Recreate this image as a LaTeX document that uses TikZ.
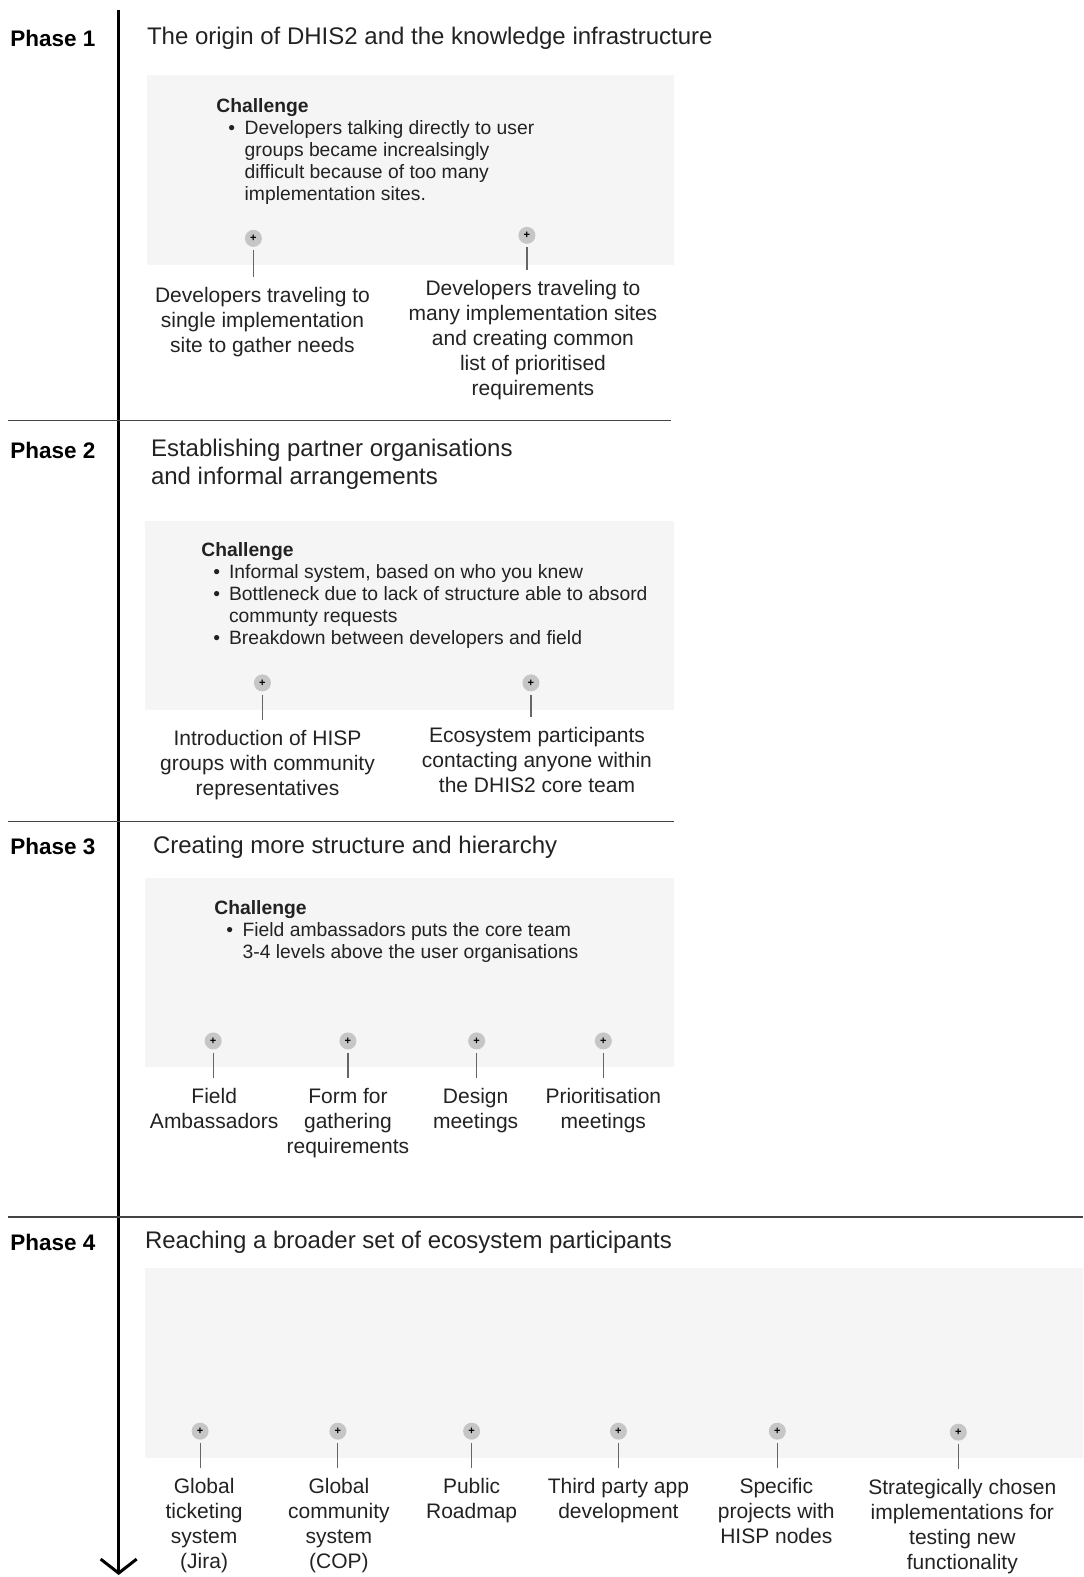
\documentclass[tikz,border=0pt]{standalone}
\usepackage{fontspec}
\setmainfont{Liberation Sans}
\usetikzlibrary{positioning,arrows.meta}
\definecolor{ink}{HTML}{222222}
\definecolor{panelgray}{HTML}{F5F5F5}
\definecolor{dotgray}{HTML}{C6C6C6}
\definecolor{stubgray}{HTML}{666666}
\definecolor{sepgray}{HTML}{444444}

\begin{document}
\begin{tikzpicture}[x=1.00557pt,y=-1.00573pt,
  phase/.style={font=\bfseries\fontsize{22.5}{25}\selectfont, anchor=west, inner sep=0, text=black},
  title/.style={font=\fontsize{24}{28}\selectfont, anchor=west, align=left, inner sep=0, text=ink},
  panel/.style={fill=panelgray, draw=none},
  chal/.style={font=\fontsize{19.3}{22}\selectfont, anchor=north west, align=left, inner sep=0, text=ink},
  plus/.style={circle, fill=dotgray, minimum size=17pt, inner sep=0, font=\bfseries\fontsize{11}{11}\selectfont},
  item/.style={font=\fontsize{21}{25}\selectfont, align=center, anchor=north, inner sep=0, text=ink},
  stub/.style={draw=stubgray, line width=1.2pt, shorten <=3pt, shorten >=10pt},
  sep/.style={draw=sepgray, line width=1.6pt}]
  \useasboundingbox (0,0) rectangle (1077,1568);

  % grey panels
  \fill[panel] (146,75) rectangle (670,263);
  \fill[panel] (144,518) rectangle (670,706);
  \fill[panel] (144,873) rectangle (670,1061);
  \fill[panel] (144,1261) rectangle (1077,1450);

  % timeline and phase separators
  \coordinate (top) at (118,10);
  \coordinate (bot) at (118,1566);
  \draw[line width=3.5pt, -{Straight Barb[length=14pt,width=36pt,line width=3pt]}] (top) -- (bot);
  \draw[sep] (8,418) -- (667,418);
  \draw[sep] (8,817) -- (670,817);
  \draw[sep] (8,1210) -- (1077,1210);

  % phase 1
  \node[phase] (ph1) at (10,38) {Phase 1};
  \node[title] (t1) at (146,38) {The origin of DHIS2 and the knowledge infrastructure};
  \node[chal] (c1) at (215,98) {\textbf{Challenge}\\[1.5pt]
    \hspace{12pt}\begin{tabular}{@{}l@{\hspace{9.5pt}}l@{}}
      • & Developers talking directly to user\\
        & groups became increalsingly\\
        & difficult because of too many\\
        & implementation sites.
    \end{tabular}};
  \node[plus] (p11) at (252,237) {+};
  \node[plus] (p12) at (524,234) {+};
  \node[item] (l11) at (261,285) {Developers traveling to\\single implementation\\site to gather needs};
  \node[item] (l12) at (530,278) {Developers traveling to\\many implementation sites\\and creating common\\list of prioritised\\requirements};
  \draw[stub] (p11) -- (p11 |- l11.north);
  \draw[stub] (p12) -- (p12 |- l12.north);

  % phase 2
  \node[phase] (ph2) at (10,448) {Phase 2};
  \node[title] (t2) at (150,462) {Establishing partner organisations\\and informal arrangements};
  \node[chal] (c2) at (200,539) {\textbf{Challenge}\\[1.5pt]
    \hspace{12pt}\begin{tabular}{@{}l@{\hspace{9pt}}l@{}}
      • & Informal system, based on who you knew\\
      • & Bottleneck due to lack of structure able to absord\\
        & communty requests\\
      • & Breakdown between developers and field
    \end{tabular}};
  \node[plus] (p21) at (261,679) {+};
  \node[plus] (p22) at (528,679) {+};
  \node[item] (l21) at (266,726) {Introduction of HISP\\groups with community\\representatives};
  \node[item] (l22) at (534,723) {Ecosystem participants\\contacting anyone within\\the DHIS2 core team};
  \draw[stub] (p21) -- (p21 |- l21.north);
  \draw[stub] (p22) -- (p22 |- l22.north);

  % phase 3
  \node[phase] (ph3) at (10,842) {Phase 3};
  \node[title] (t3) at (152,842) {Creating more structure and hierarchy};
  \node[chal] (c3) at (213,895) {\textbf{Challenge}\\[1.5pt]
    \hspace{12pt}\begin{tabular}{@{}l@{\hspace{9.5pt}}l@{}}
      • & Field ambassadors puts the core team\\
        & 3-4 levels above the user organisations
    \end{tabular}};
  \node[plus] (p31) at (212,1035) {+};
  \node[plus] (p32) at (346,1035) {+};
  \node[plus] (p33) at (474,1035) {+};
  \node[plus] (p34) at (600,1035) {+};
  \node[item] (l31) at (213,1082) {Field\\Ambassadors};
  \node[item] (l32) at (346,1082) {Form for\\gathering\\requirements};
  \node[item] (l33) at (473,1082) {Design\\meetings};
  \node[item] (l34) at (600,1082) {Prioritisation\\meetings};
  \foreach \i in {1,...,4}
    \draw[stub] (p3\i) -- (p3\i |- l3\i.north);

  % phase 4
  \node[phase] (ph4) at (10,1235) {Phase 4};
  \node[title] (t4) at (144,1235) {Reaching a broader set of ecosystem participants};
  \node[plus] (p41) at (199,1423) {+};
  \node[plus] (p42) at (336,1423) {+};
  \node[plus] (p43) at (469,1423) {+};
  \node[plus] (p44) at (615,1423) {+};
  \node[plus] (p45) at (773,1423) {+};
  \node[plus] (p46) at (953,1424) {+};
  \node[item] (l41) at (203,1470) {Global\\ticketing\\system\\(Jira)};
  \node[item] (l42) at (337,1470) {Global\\community\\system\\(COP)};
  \node[item] (l43) at (469,1470) {Public\\Roadmap};
  \node[item] (l44) at (615,1470) {Third party app\\development};
  \node[item] (l45) at (772,1470) {Specific\\projects with\\HISP nodes};
  \node[item] (l46) at (957,1471) {Strategically chosen\\implementations for\\testing new\\functionality};
  \foreach \i in {1,...,6}
    \draw[stub] (p4\i) -- (p4\i |- l4\i.north);
\end{tikzpicture}
\end{document}
